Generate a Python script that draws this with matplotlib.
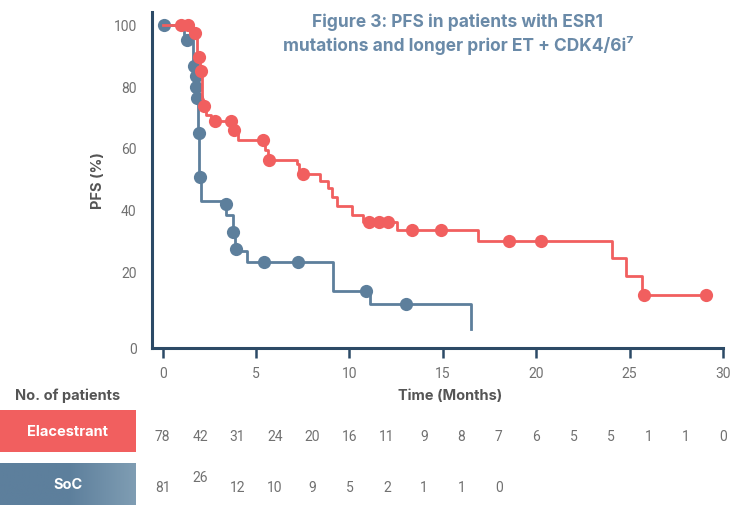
import matplotlib
matplotlib.use("Agg")
import matplotlib.pyplot as plt
import matplotlib.transforms as mtransforms
import numpy as np

# ---------------- data ----------------
ela_time = [0, 1.62, 1.84, 1.98, 2.12, 2.18, 2.3, 2.59, 3.77, 4.03, 5.48, 5.64, 7.19, 7.30,
            8.43, 8.86, 9.07, 9.33, 10.14, 10.73, 12.56, 16.86, 24.07, 24.82, 25.67, 29.1]
ela_surv = [100, 97.4, 89.6, 85.0, 76.0, 73.7, 70.7, 68.8, 65.9, 62.6, 59.3, 56.1, 54.8, 51.5,
            49.3, 47.0, 44.1, 41.1, 38.2, 35.9, 33.3, 29.8, 24.2, 18.4, 12.2, 12.2]
ela_cens_time = [0.98, 1.35, 1.73, 1.94, 2.08, 2.21, 2.80, 3.66, 3.82, 5.37, 5.70, 7.52,
                 11.05, 11.59, 12.07, 13.36, 14.91, 18.55, 20.26, 25.78, 29.1]
ela_cens_surv = [100, 100, 97.4, 89.6, 85.0, 73.7, 68.8, 68.8, 65.9, 62.6, 56.1, 51.5,
                 35.9, 35.9, 35.9, 33.3, 33.3, 29.8, 29.8, 12.2, 12.2]

soc_time = [0, 1.14, 1.65, 1.75, 1.79, 1.83, 1.89, 1.97, 2.03, 3.39, 3.77, 3.87, 4.52,
            9.12, 11.11, 16.51]
soc_surv = [100, 95.1, 86.7, 83.4, 79.8, 76.3, 64.9, 50.6, 42.8, 38.2, 33.0, 26.6, 22.9,
            13.5, 9.3, 1.1]
soc_cens_time = [0.07, 1.30, 1.66, 1.76, 1.77, 1.82, 1.93, 2.0, 3.39, 3.77, 3.93, 5.43,
                 7.25, 10.89, 13.03]
soc_cens_surv = [100, 95.1, 86.7, 83.4, 79.8, 76.3, 64.9, 50.6, 41.8, 32.8, 27.2, 22.9,
                 22.9, 13.5, 9.3]

risk_times = list(range(0, 31, 2))
ela_risk = [78, 42, 31, 24, 20, 16, 11, 9, 8, 7, 6, 5, 5, 1, 1, 0]
soc_risk = [81, 26, 12, 10, 9, 5, 2, 1, 1, 0]

x_ticks = [0, 5, 10, 15, 20, 25, 30]
y_ticks = [20, 40, 60, 80, 100]

# ---------------- style ----------------
W, H = 732, 506
RED = "#f15f5f"
BLUE = "#5d7f9c"
SPINE = "#2c4a66"
TICKTXT = "#717171"
LABELTXT = "#555555"
TITLE = "#6a8aa8"
FONT = ["Roboto", "DejaVu Sans"]
BOLDFONT = ["Inter", "DejaVu Sans"]

plt.rcParams["font.family"] = FONT

fig = plt.figure(figsize=(W / 100, H / 100), dpi=100)

# axes box in pixels: left 152, right 723, top 13, bottom 349
ax = fig.add_axes([152 / W, 1 - 349 / H, (723 - 152) / W, (349 - 13) / H])
y_bottom = -5.0
ax.set_xlim(-0.57, 30)
ax.set_ylim(y_bottom, 104.2)

ax.step(soc_time, soc_surv, where="post", color=BLUE, lw=2.0, zorder=2)
ax.plot(soc_cens_time, soc_cens_surv, "o", color=BLUE, ms=9.5, mec="none", zorder=3)
ax.step(ela_time, ela_surv, where="post", color=RED, lw=2.0, zorder=4)
ax.plot(ela_cens_time, ela_cens_surv, "o", color=RED, ms=9.5, mec="none", zorder=5)

for side in ["top", "right"]:
    ax.spines[side].set_visible(False)
for side in ["left", "bottom"]:
    ax.spines[side].set_color(SPINE)
    ax.spines[side].set_linewidth(2.2)

ax.set_xticks(x_ticks)
ax.set_xticklabels([str(v) for v in x_ticks])
ax.set_yticks([y_bottom] + y_ticks)
ax.set_yticklabels(["0"] + [str(v) for v in y_ticks])
ax.tick_params(axis="x", length=7, width=1.8, color=SPINE, pad=6,
               labelsize=10, labelcolor=TICKTXT)
ax.tick_params(axis="y", length=0, pad=11, labelsize=10, labelcolor=TICKTXT)

ax.set_ylabel("PFS (%)", fontsize=10.5, fontweight="bold", color=LABELTXT,
              labelpad=6, family=BOLDFONT)

# title
fig.text(458 / W, 1 - 34 / H,
         "Figure 3: PFS in patients with ESR1\nmutations and longer prior ET + CDK4/6i\u2077",
         ha="center", va="center", fontsize=12.5, fontweight="bold", color=TITLE,
         family=BOLDFONT, linespacing=1.35)

# headers under the axis
fig.text(450 / W, 1 - 396 / H, "Time (Months)", ha="center", va="center",
         fontsize=10.5, fontweight="bold", color=LABELTXT, family=BOLDFONT)
fig.text(68 / W, 1 - 396 / H, "No. of patients", ha="center", va="center",
         fontsize=10.5, fontweight="bold", color=LABELTXT, family=BOLDFONT)

# row label boxes
ax_ela = fig.add_axes([0, 1 - 453 / H, 136 / W, (453 - 411) / H])
ax_ela.set_facecolor(RED)
ax_ela.set_xticks([])
ax_ela.set_yticks([])
for s in ax_ela.spines.values():
    s.set_visible(False)
ax_ela.text(0.5, 0.5, "Elacestrant", ha="center", va="center", color="white",
            fontsize=10.5, fontweight="bold", family=BOLDFONT, transform=ax_ela.transAxes)

ax_soc = fig.add_axes([0, 0, 136 / W, (506 - 464) / H])
grad = np.concatenate([np.zeros(50), np.linspace(0, 1, 50)])[None, :]
cmap = matplotlib.colors.LinearSegmentedColormap.from_list("soc", [BLUE, "#7f9db3"])
ax_soc.imshow(grad, aspect="auto", cmap=cmap, extent=[0, 1, 0, 1])
ax_soc.set_xlim(0, 1)
ax_soc.set_ylim(0, 1)
ax_soc.set_xticks([])
ax_soc.set_yticks([])
for s in ax_soc.spines.values():
    s.set_visible(False)
ax_soc.text(0.5, 0.5, "SoC", ha="center", va="center", color="white",
            fontsize=10.5, fontweight="bold", family=BOLDFONT, transform=ax_soc.transAxes)

# numbers at risk, placed on the time scale of the main axes
trans = mtransforms.blended_transform_factory(ax.transData, fig.transFigure)
for t, n in zip(risk_times, ela_risk):
    fig.text(t, 1 - 437 / H, str(n), transform=trans, ha="center", va="center",
             fontsize=10, color=TICKTXT)
for i, (t, n) in enumerate(zip(risk_times, soc_risk)):
    y = 478 if i == 1 else 488
    fig.text(t, 1 - y / H, str(n), transform=trans, ha="center", va="center",
             fontsize=10, color=TICKTXT)

fig.savefig("out.png", dpi=100)
